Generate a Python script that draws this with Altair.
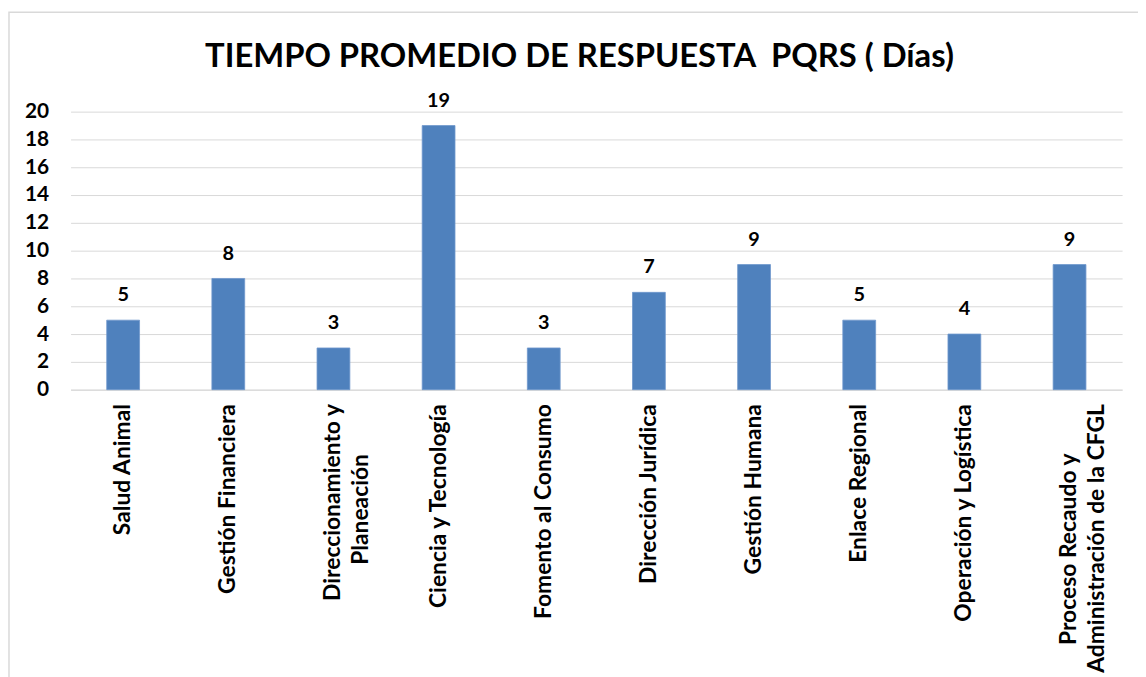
import altair as alt
import pandas as pd

categories = [
    "Salud Animal",
    "Gestión Financiera",
    "Direccionamiento y|Planeación",
    "Ciencia y Tecnología",
    "Fomento al Consumo",
    "Dirección Jurídica",
    "Gestión Humana",
    "Enlace Regional",
    "Operación y Logística",
    "Proceso Recaudo y|Administración de la CFGL",
]
values = [5, 8, 3, 19, 3, 7, 9, 5, 4, 9]
y_ticks = [0, 2, 4, 6, 8, 10, 12, 14, 16, 18, 20]
title_text = "TIEMPO PROMEDIO DE RESPUESTA\u00a0 PQRS ( Días)"

FONT = "Lato"
LABEL_SIZE = 23
CHAR_W = 0.44 * LABEL_SIZE
NBSP_W = 0.193 * LABEL_SIZE


def center_lines(label):
    lines = label.split("|")
    if len(lines) == 1:
        return label
    longest = max(len(s) for s in lines)
    out = []
    for s in lines:
        n = int(round((longest - len(s)) * CHAR_W / NBSP_W / 2))
        out.append(s + ("\u00a0" * n + "\u2060" if n else ""))
    return "|".join(out)


display = [center_lines(c) for c in categories]
df = pd.DataFrame({"area": display, "dias": values})

W, H = 1059, 280

x_enc = alt.X(
    "area:N",
    sort=display,
    scale=alt.Scale(paddingInner=0.688, paddingOuter=0.344),
    axis=alt.Axis(
        title=None,
        labelAngle=-90,
        labelAlign="right",
        labelBaseline="middle",
        labelExpr="split(datum.label, '|')",
        labelLineHeight=28,
        labelFont=FONT,
        labelFontWeight="bold",
        labelFontSize=LABEL_SIZE,
        labelColor="#000000",
        labelPadding=14,
        labelLimit=400,
        labelOverlap=False,
        ticks=False,
        domainColor="#D9D9D9",
        domainWidth=1,
    ),
)
y_enc = alt.Y(
    "dias:Q",
    scale=alt.Scale(domain=[0, 20], nice=False),
    axis=alt.Axis(
        title=None,
        values=y_ticks,
        labelFont=FONT,
        labelFontWeight="bold",
        labelFontSize=21,
        labelColor="#000000",
        labelPadding=22,
        labelOverlap=False,
        ticks=False,
        domain=False,
        grid=True,
        gridColor="#D9D9D9",
        gridWidth=1,
    ),
)

base = alt.Chart(df)

frame = base.mark_rect(fill="transparent", stroke="#D9D9D9", strokeWidth=1.5).encode(
    x=alt.value(-62), x2=alt.value(W + 40), y=alt.value(-100), y2=alt.value(H + 320)
).transform_filter("datum.dias == 5").transform_aggregate(n="count()")

bars = base.mark_bar(color="#4F81BD", stroke="#6F98CC", strokeWidth=0.8).encode(x=x_enc, y=y_enc)

labels = base.mark_text(
    font=FONT, fontWeight="bold", fontSize=20, color="#000000",
    baseline="alphabetic", dy=-19,
).encode(x=x_enc, y=y_enc, text="dias:Q")

chart = alt.layer(frame, bars, labels).properties(
    width=W,
    height=H,
    title=alt.TitleParams(
        title_text, font=FONT, fontWeight="bold", fontSize=33, color="#000000",
        anchor="middle", dx=-17, offset=-63,
    ),
    autosize=alt.AutoSizeParams(type="none"),
    padding={"left": 63, "top": 102, "right": 16, "bottom": 287},
).configure_view(stroke=None)

chart.save("out.html", embed_options={"renderer": "svg", "actions": False})
